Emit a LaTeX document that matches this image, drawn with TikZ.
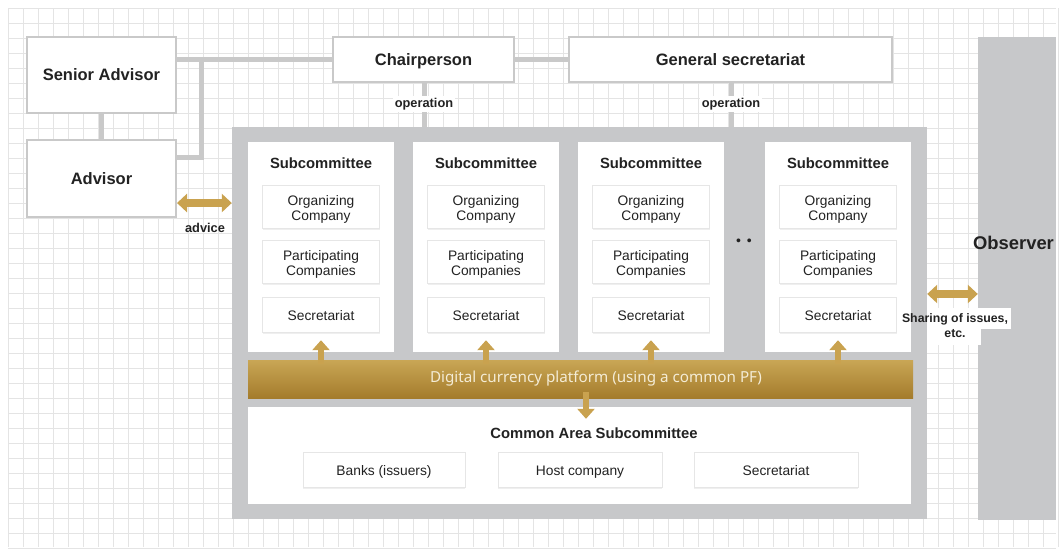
\documentclass[tikz,border=0pt]{standalone}
\usepackage{fontspec}
\setmainfont{Liberation Sans}
\newfontfamily\notosans{Noto Sans}
\usetikzlibrary{arrows.meta,shadows}
\definecolor{gridc}{HTML}{E4E4E4}
\definecolor{boxline}{HTML}{C9C9C9}
\definecolor{panelc}{HTML}{C7C8CA}
\definecolor{goldc}{HTML}{C9A24F}
\definecolor{goldtop}{HTML}{C9A655}
\definecolor{goldbot}{HTML}{A47C2C}
\definecolor{txt}{HTML}{222222}
\definecolor{cream}{HTML}{F4ECD6}
\definecolor{innerline}{HTML}{E6E6E6}
\tikzset{
  oneline/.style={text height=1.2em, text depth=0.1em},
  topbox/.style={draw=boxline, line width=2pt, fill=white, text=txt, oneline,
    font=\bfseries\fontsize{16.5}{18}\selectfont, inner sep=0pt},
  colbox/.style={fill=white, minimum width=146pt, minimum height=210pt, inner sep=0pt},
  innerbox/.style={draw=innerline, line width=0.8pt, fill=white, text=txt, align=center,
    font=\fontsize{13.8}{15}\selectfont, inner sep=0pt,
    drop shadow={opacity=0.12, shadow xshift=0pt, shadow yshift=-1.5pt}},
  mtext/.style={text=txt, align=center, font=\fontsize{13.8}{15}\selectfont, inner sep=0pt, yshift=-2.5pt},
  titletext/.style={text=txt, font=\bfseries\fontsize{14.8}{16}\selectfont, inner sep=0pt},
  lbl/.style={text=txt, font=\bfseries\fontsize{12.8}{15}\selectfont, align=center, fill=white, inner sep=2pt},
  conn/.style={draw=boxline, line width=5pt},
  goldup/.style={draw=goldc, line width=6pt, -{Triangle[width=17pt,length=10pt]}},
  golddbl/.style={draw=goldc, line width=8pt, {Triangle[width=18pt,length=10pt]}-{Triangle[width=18pt,length=10pt]}},
}
\begin{document}
\begin{tikzpicture}[x=1pt,y=-1pt]
\useasboundingbox (0,0) rectangle (1063,550);
\fill[white] (0,0) rectangle (1063,550);
% grid
\foreach \x in {8,23,...,1058} \draw[gridc,line width=0.8pt] (\x,8) -- (\x,547);
\foreach \y in {8,23,...,548} \draw[gridc,line width=0.8pt] (8,\y) -- (1056,\y);

% top boxes
\node[topbox, minimum width=149pt, minimum height=76pt] (sa) at (101.5,75) {Senior Advisor};
\node[topbox, minimum width=149pt, minimum height=77pt] (adv) at (101.5,178.5) {Advisor};
\node[topbox, minimum width=181pt, minimum height=45pt] (ch) at (423.5,59.5) {Chairperson};
\node[topbox, minimum width=323pt, minimum height=45pt] (gs) at (730.5,59.5) {General secretariat};

% panel
\node[fill=panelc, minimum width=695pt, minimum height=392pt, inner sep=0pt] (pn) at (579.5,323) {};
% observer
\node[fill=panelc, minimum width=78pt, minimum height=483pt, inner sep=0pt] (obs) at (1017,278.5) {};
\node[text=txt, font=\bfseries\fontsize{18.4}{20}\selectfont, inner sep=0pt] (obst) at (1013.5,243) {Observer};

% connectors
\draw[conn] (sa) -- (adv);
\draw[conn] (sa.east |- ch.west) -- (ch.west);
\draw[conn] (ch.east) -- (gs.west);
\coordinate (j1) at (201,60);
\coordinate (j2) at (201,157);
\draw[conn] (j1) -- (j2) -- (adv.east |- j2);
\coordinate (op1) at (424,0);
\coordinate (op2) at (731,0);
\draw[conn] (ch.south -| op1) -- (pn.north -| op1);
\draw[conn] (gs.south -| op2) -- (pn.north -| op2);
\node[lbl] (opl1) at (424,104) {operation};
\node[lbl] (opl2) at (731,104) {operation};

% subcommittee columns
\foreach \i/\cx in {1/321, 2/486, 3/651, 4/838} {
  \node[colbox] (c\i) at (\cx,247) {};
  \node[titletext] (t\i) at (\cx,163) {Subcommittee};
  \node[innerbox, minimum width=117pt, minimum height=43pt,
    label={[mtext]center:Organizing\\Company}] (o\i) at (\cx,206.5) {};
  \node[innerbox, minimum width=117pt, minimum height=43pt,
    label={[mtext]center:Participating\\Companies}] (p\i) at (\cx,261.5) {};
  \node[innerbox, oneline, minimum width=117pt, minimum height=35pt] (s\i) at (\cx,314.5) {Secretariat};
}
\node[text=txt, font=\fontsize{14}{16}\selectfont, inner sep=0pt] (dots) at (744,242) {\textbullet\hspace{6pt}\textbullet};

% common area
\node[fill=white, minimum width=663pt, minimum height=97pt, inner sep=0pt] (ca) at (579.5,455.5) {};
\node[titletext] (cat) at (594,433) {Common Area Subcommittee};
\node[innerbox, oneline, minimum width=162pt, minimum height=35pt] (bk) at (384,469.5) {Banks (issuers)};
\node[innerbox, oneline, minimum width=164pt, minimum height=35pt] (hc) at (580,469.5) {Host company};
\node[innerbox, oneline, minimum width=164pt, minimum height=35pt] (cs) at (776,469.5) {Secretariat};

% platform
\node[top color=goldtop, bottom color=goldbot, minimum width=665pt, minimum height=38pt, inner sep=0pt] (pf) at (580.5,379) {};
\node[text=cream, font=\notosans\fontsize{15.2}{17}\selectfont, inner sep=0pt] (pft) at (596,379) {Digital currency platform (using a common PF)};

% up arrows
\foreach \i in {1,2,3,4} {
  \draw[goldup] ([yshift=-4pt]pf.north -| c\i) -- ([yshift=12pt]c\i.south);
}
% down arrow
\coordinate (dx) at (586,0);
\draw[goldup] ([yshift=6pt]pf.south -| dx) -- ([yshift=-12pt]ca.north -| dx);

% advice arrow
\coordinate (ay) at (0,203);
\draw[golddbl] (adv.east |- ay) -- (pn.west |- ay);
\node[lbl, fill=none] (advl) at (205,228) {advice};

% sharing arrow
\coordinate (sy) at (0,294);
\draw[golddbl] (pn.east |- sy) -- (obs.west |- sy);
\fill[white] (927,308) rectangle (1011,329);
\fill[white] (927,329) rectangle (981,345);
\node[lbl, fill=none, font=\bfseries\fontsize{12.3}{15}\selectfont, inner sep=0pt] (shl) at (955,326) {Sharing of issues,\\etc.};
\end{tikzpicture}
\end{document}
